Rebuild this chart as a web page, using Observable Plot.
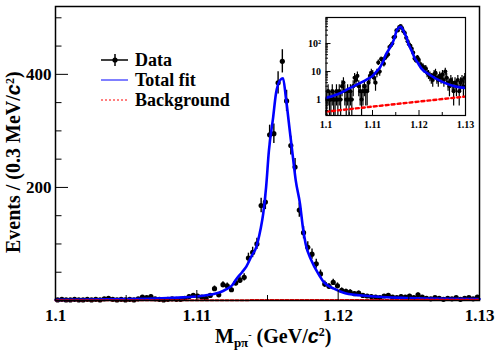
<!DOCTYPE html>
<html><head><meta charset="utf-8">
<script src="https://cdn.jsdelivr.net/npm/d3@7"></script>
<script src="https://cdn.jsdelivr.net/npm/@observablehq/plot@0.6"></script>
<style>
html,body{margin:0;padding:0;background:#fff;}
#wrap{position:relative;width:498px;height:358px;overflow:hidden;background:#fff;}
#wrap svg{position:absolute;overflow:visible;}
</style></head><body><div id="wrap"></div>
<script>
// histogram binning (0.3 MeV bins from 1.1 GeV)
const binStart = 1.1, binWidth = 0.0003;
const counts = [
  1,2,1,1,2,1,1,2,1,2,
  1,3,4,2,1,2,1,2,1,3,
  6,5,7,3,2,1,2,3,2,2,
  4,7,9,8,6,4,9,21,10,28,
  26,19,31,36,41,75,85,100,168,174,
  293,295,385,423,353,274,236,160,120,94,
  82,65,47,29,25,32,26,18,16,15,
  12,13,9,8,7,6,5,8,9,6,
  5,7,6,8,5,10,6,4,3,5,
  4,2,4,3,5,2,4,5,3,6
];
// total fit curve
const fitX = [1.100,1.1025,1.105,1.1075,1.109,1.110,1.111,1.1116,1.1121,1.1125,1.1128,1.1132,1.1135,1.1139,1.1142,1.1145,1.1147,1.1149,1.1151,1.1154,1.1156,1.1159,1.1161,1.1163,1.11655,1.1168,1.1170,1.1173,1.1175,1.1177,1.1181,1.1186,1.1190,1.1197,1.1205,1.1221,1.125,1.128,1.13];
const fitY = [1.15,1.55,2.5,4.0,5.5,7.0,10.5,14,20,27,38,50,60,80,94,125,154,200,265,324,366,390,393,359,306,253,212,171,130,100,71,47,32,21,13,8,4.3,2.9,2.6];
// background curve
const bgX = [1.1, 1.115, 1.13];
const bgY = [0.37, 0.69, 1.28];
// ticks
const xTicks = [1.1, 1.11, 1.12, 1.13];
const xTickLabels = ["1.1", "1.11", "1.12", "1.13"];
const xMidTicks = [1.105, 1.115, 1.125];
const yTicks = [200, 400];
const yMinorTicks = [50,100,150,250,300,350,450,500];
const insetYTicks = [1, 10, 100];
const insetYLabels = ["1", "10", "10\u00B2"];
const insetYMinor = [0.3,0.4,0.5,0.6,0.7,0.8,0.9,2,3,4,5,6,7,8,9,20,30,40,50,60,70,80,90,200,300,400,500,600,700,800];
const legendLabels = ["Data", "Total fit", "Background"];

const data = counts.map((c, i) => ({x: binStart + (i + 0.5) * binWidth, c, lo: c - Math.sqrt(c), hi: c + Math.sqrt(c)}));
const fit = fitX.map((x, i) => ({x, y: fitY[i]}));
const bg = bgX.map((x, i) => ({x, y: bgY[i]}));

const serif = "Liberation Serif, Times New Roman, serif";
const sans = "Liberation Sans, Arial, sans-serif";
const wrap = document.getElementById("wrap");

// ---------- main plot ----------
const W = 498, H = 358, mL = 55, mR = 19, mT = 6, mB = 58;
const pw = W - mL - mR, ph = H - mT - mB;
const main = Plot.plot({
  width: W, height: H, marginLeft: mL, marginRight: mR, marginTop: mT, marginBottom: mB,
  style: {background: "transparent", overflow: "visible"},
  x: {domain: [1.1, 1.13], axis: null},
  y: {domain: [0, 520], axis: null},
  marks: [
    Plot.ruleX(data, {x: "x", y1: "lo", y2: "hi", stroke: "black", strokeWidth: 1.4}),
    Plot.dot(data, {x: "x", y: "c", r: 2.6, fill: "black", stroke: "none"}),
    Plot.line(fit, {x: "x", y: "y", stroke: "#0000ff", strokeWidth: 2.6, curve: "monotone-x"}),
    Plot.line(bg, {x: "x", y: "y", stroke: "#ff0000", strokeWidth: 2, strokeDasharray: "3,2"}),
    Plot.tickX(xTicks, {x: d => d, insetTop: ph - 10, stroke: "black", strokeWidth: 1}),
    Plot.tickX(xMidTicks, {x: d => d, insetTop: ph - 5, stroke: "black", strokeWidth: 1}),
    Plot.tickY(yTicks, {y: d => d, insetRight: pw - 13, stroke: "black", strokeWidth: 1}),
    Plot.tickY(yMinorTicks, {y: d => d, insetRight: pw - 6.5, stroke: "black", strokeWidth: 1}),
    Plot.text(xTicks, {x: d => d, text: (d, i) => xTickLabels[i], frameAnchor: "bottom", lineAnchor: "top", dy: 8,
      fontFamily: serif, fontWeight: "bold", fontSize: 17, fill: "black"}),
    Plot.text(yTicks, {y: d => d, text: d => String(d), frameAnchor: "left", textAnchor: "end", dx: -4,
      fontFamily: serif, fontWeight: "bold", fontSize: 17, fill: "black"}),
    Plot.frame({stroke: "black", strokeWidth: 1.5})
  ]
});
main.style.left = "0px"; main.style.top = "0px";
wrap.appendChild(main);

const svg = d3.select(main);
// x title
const xt = svg.append("text").attr("x", 215).attr("y", 343).attr("text-anchor", "start")
  .attr("font-family", serif).attr("font-weight", "bold").attr("font-size", 20).attr("fill", "black");
xt.append("tspan").text("M");
xt.append("tspan").attr("font-size", 13).attr("dy", 4).text("p\u03C0");
xt.append("tspan").attr("font-size", 10).attr("dy", -9).text("-");
xt.append("tspan").attr("dy", 5).text(" (GeV/");
xt.append("tspan").attr("font-family", sans).attr("font-style", "italic").text("c");
xt.append("tspan").attr("font-size", 12).attr("dy", -7).text("2");
xt.append("tspan").attr("dy", 7).text(")");

// y title
const yt = svg.append("text").attr("transform", "translate(20,253) rotate(-90)").attr("text-anchor", "start")
  .attr("font-family", serif).attr("font-weight", "bold").attr("font-size", 20).attr("fill", "black");
yt.append("tspan").text("Events / (0.3 MeV/");
yt.append("tspan").attr("font-family", sans).attr("font-style", "italic").text("c");
yt.append("tspan").attr("font-size", 12).attr("dy", -6).text("2");
yt.append("tspan").attr("dy", 6).text(")");

// legend
const lg = svg.append("g");
const rows = [60, 80, 100];
lg.append("line").attr("x1", 101).attr("x2", 128).attr("y1", rows[0]).attr("y2", rows[0]).attr("stroke", "black").attr("stroke-width", 1.5);
lg.append("line").attr("x1", 115).attr("x2", 115).attr("y1", rows[0] - 6).attr("y2", rows[0] + 6).attr("stroke", "black").attr("stroke-width", 1.5);
lg.append("circle").attr("cx", 115).attr("cy", rows[0]).attr("r", 2.6).attr("fill", "black");
lg.append("line").attr("x1", 101).attr("x2", 128).attr("y1", rows[1]).attr("y2", rows[1]).attr("stroke", "#0000ff").attr("stroke-width", 1);
lg.append("line").attr("x1", 101).attr("x2", 128).attr("y1", rows[2]).attr("y2", rows[2]).attr("stroke", "#ff0000").attr("stroke-width", 1).attr("stroke-dasharray", "2,2");
legendLabels.forEach((t, i) => {
  lg.append("text").attr("x", 135).attr("y", rows[i] + 6).attr("text-anchor", "start")
    .attr("font-family", serif).attr("font-weight", "bold")
    .attr("font-size", 18).attr("fill", "black").text(t);
});

// ---------- inset ----------
const iW = 185, iH = 125, iL = 35.5, iR = 10, iT = 12, iB = 15;
const ipw = iW - iL - iR, iph = iH - iT - iB;
const yLo = 0.27, yHi = 850;
const insetData = data.filter(d => d.c > 0).map(d => ({...d, lo: Math.max(d.lo, yLo), hi: Math.min(d.hi, yHi)}));
const inset = Plot.plot({
  width: iW, height: iH, marginLeft: iL, marginRight: iR, marginTop: iT, marginBottom: iB,
  style: {background: "transparent", overflow: "visible"},
  x: {domain: [1.1, 1.13], axis: null},
  y: {type: "log", domain: [yLo, yHi], axis: null},
  marks: [
    Plot.frame({fill: "white", stroke: "none"}),
    Plot.ruleX(insetData, {x: "x", y1: "lo", y2: "hi", stroke: "black", strokeWidth: 1.2, clip: true}),
    Plot.dot(insetData, {x: "x", y: "c", r: 2.1, fill: "black", stroke: "none", clip: true}),
    Plot.line(fit, {x: "x", y: "y", stroke: "#0000ff", strokeWidth: 2.6, curve: "monotone-x", clip: true}),
    Plot.line(bg, {x: "x", y: "y", stroke: "#ff0000", strokeWidth: 2.4, strokeDasharray: "3,3", clip: true}),
    Plot.tickX(xTicks, {x: d => d, insetTop: iph - 5, stroke: "black"}),
    Plot.tickX(xMidTicks, {x: d => d, insetTop: iph - 3, stroke: "black"}),
    Plot.tickY(insetYTicks, {y: d => d, insetRight: ipw - 5, stroke: "black"}),
    Plot.tickY(insetYMinor, {y: d => d, insetRight: ipw - 2.5, stroke: "black"}),
    Plot.text(xTicks, {x: d => d, text: (d, i) => xTickLabels[i], frameAnchor: "bottom", lineAnchor: "top", dy: 5,
      fontFamily: serif, fontWeight: "bold", fontSize: 10, fill: "black"}),
    Plot.text(insetYTicks, {y: d => d, text: (d, i) => insetYLabels[i], frameAnchor: "left", textAnchor: "end", dx: -5,
      fontFamily: serif, fontWeight: "bold", fontSize: 10, fill: "black"}),
    Plot.frame({stroke: "black", strokeWidth: 1.2})
  ]
});
inset.style.left = "290px"; inset.style.top = "5px";
wrap.appendChild(inset);
</script>
</body></html>
